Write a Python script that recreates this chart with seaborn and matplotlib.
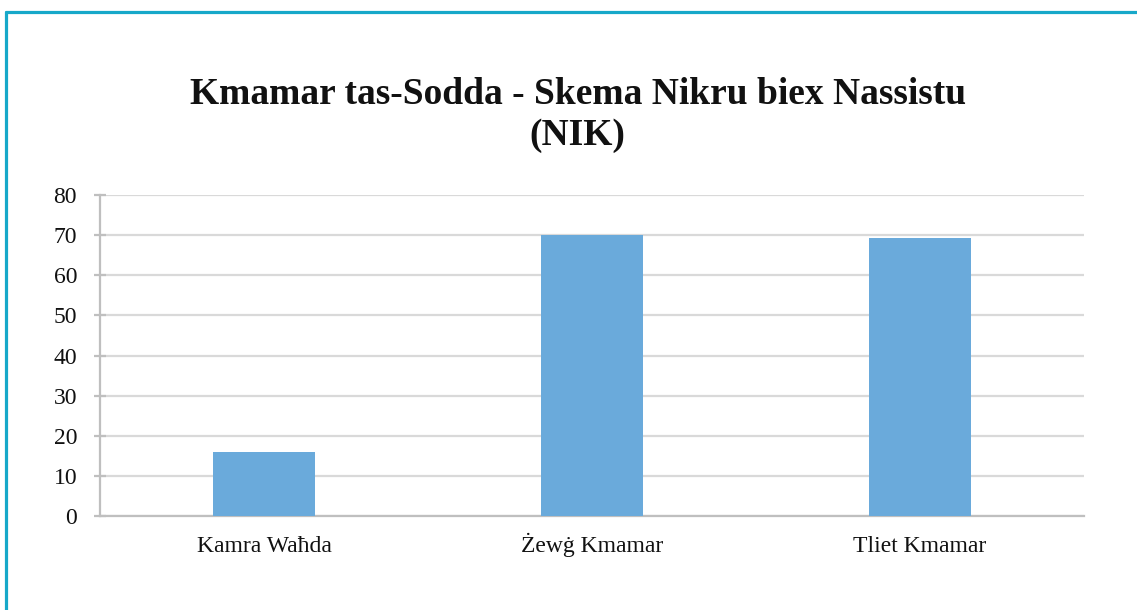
import numpy as np
import pandas as pd
import matplotlib
matplotlib.use("Agg")
import matplotlib.pyplot as plt
import seaborn as sns
from matplotlib.lines import Line2D

# data
categories = ["Kamra Waħda", "Żewġ Kmamar", "Tliet Kmamar"]
values = [16, 70, 69.4]
title = "Kmamar tas-Sodda - Skema Nikru biex Nassistu\n(NIK)"

df = pd.DataFrame({"kategorija": categories, "valur": values})

sns.set_style("white")
plt.rcParams["font.family"] = ["Liberation Serif", "DejaVu Serif"]

fig = plt.figure(figsize=(11.37, 6.10), dpi=100)
ax = fig.add_axes([100 / 1137, 1 - 516 / 610, 984 / 1137, 321 / 610])

sns.barplot(data=df, x="kategorija", y="valur", color="#6aaadb",
            width=0.31, saturation=1, linewidth=0, ax=ax, zorder=3)

ax.set_xlim(-0.5, 2.5)
ax.set_ylim(0, 80)
ax.set_yticks(np.arange(0, 81, 10))
ax.set_xlabel("")
ax.set_ylabel("")

# grid + axes styling
ax.yaxis.grid(True, color="#d9d9d9", linewidth=1.6, zorder=0)
ax.set_axisbelow(True)
for side in ["top", "right"]:
    ax.spines[side].set_visible(False)
for side in ["left", "bottom"]:
    ax.spines[side].set_color("#bfbfbf")
    ax.spines[side].set_linewidth(1.6)
ax.tick_params(axis="y", direction="inout", length=9, width=1.6, color="#bfbfbf",
               labelsize=17, labelcolor="#111111", pad=12, left=True)
ax.tick_params(axis="x", length=0, labelsize=17, labelcolor="#111111", pad=26)
for lab in ax.get_xticklabels():
    lab.set_verticalalignment("baseline")

# title
fig.text(0.508, 1 - 115 / 610, title, ha="center", va="center",
         fontsize=27, fontweight="bold", color="#111111", linespacing=1.2)

# teal frame (top + left only, rest is cropped)
fig.add_artist(Line2D([5.5 / 1137, 1], [1 - 11.5 / 610, 1 - 11.5 / 610],
                      transform=fig.transFigure, color="#17a8c9", linewidth=2.3))
fig.add_artist(Line2D([5.5 / 1137, 5.5 / 1137], [0, 1 - 11.5 / 610],
                      transform=fig.transFigure, color="#17a8c9", linewidth=2.3))

fig.savefig("out.png", dpi=100, facecolor="white")
